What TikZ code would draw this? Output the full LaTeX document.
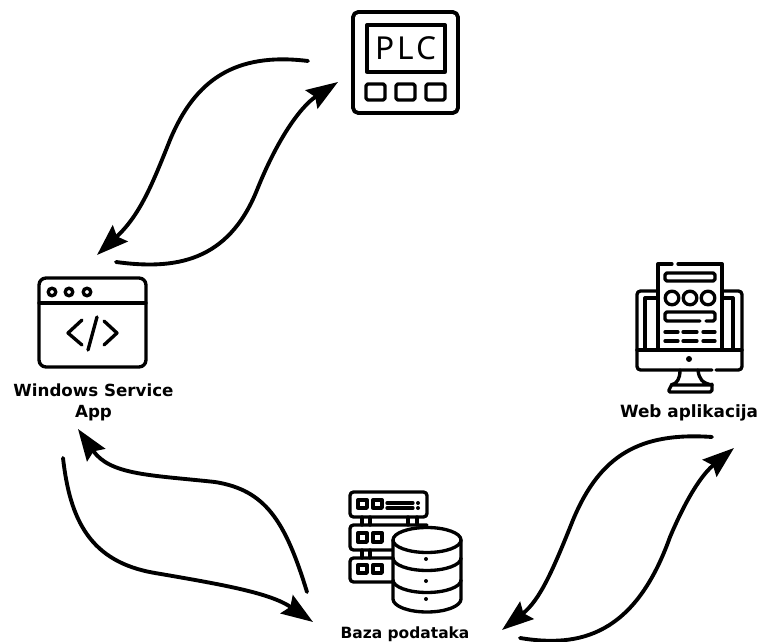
\documentclass[tikz,border=0pt]{standalone}
\usepackage{fontspec}
\setsansfont{DejaVu Sans}
\newfontfamily\plcfont[LetterSpace=10]{Noto Sans}
\usetikzlibrary{arrows.meta}

\begin{document}
\begin{tikzpicture}[scale=0.2]
\tikzstyle{every node}+=[inner sep=0pt]
\tikzstyle{icon}=[black,line width=1.9pt,line cap=round,line join=round]
\tikzstyle{flow}=[black,line width=2.2pt,line cap=round,-{Stealth[length=18pt,width=12.5pt,inset=2.5pt]}]
\tikzstyle{caption}=[font=\sffamily\bfseries,align=center,text=black]
\useasboundingbox (0,0) rectangle (76,-64.2);
% PLC
\draw [icon,line width=2.2pt,rounded corners=3pt] (35.3,-1.2) rectangle (45.8,-11.3);
\draw [icon] (36.7,-2.5) rectangle (44.5,-7.2);
\node (plc) at (40.6,-4.85) {\plcfont\fontsize{18}{18}\selectfont PLC};
\draw [icon,rounded corners=1pt] (36.6,-8.4) rectangle (38.5,-10);
\draw [icon,rounded corners=1pt] (39.6,-8.4) rectangle (41.5,-10);
\draw [icon,rounded corners=1pt] (42.6,-8.4) rectangle (44.5,-10);
% Windows service
\draw [icon,rounded corners=4pt] (3.9,-27.8) rectangle (14.6,-36.7);
\draw [icon] (3.9,-30.3) -- (14.6,-30.3);
\draw [icon] (5.2,-29.2) circle (0.38);
\draw [icon] (6.9,-29.2) circle (0.38);
\draw [icon] (8.7,-29.2) circle (0.38);
\draw [icon] (8.2,-32) -- (6.8,-33.3) -- (8.2,-34.5);
\draw [icon] (9.7,-31.7) -- (8.8,-35);
\draw [icon] (10.4,-32.1) -- (11.7,-33.3) -- (10.4,-34.5);
\node [caption,font=\sffamily\bfseries\fontsize{9.5}{12}\selectfont] (service) at (9.35,-40.25) {Windows Service\\App};
% Web app
\draw [icon,rounded corners=2pt] (63.7,-35) -- (63.7,-29.1) -- (65.8,-29.1);
\draw [icon,rounded corners=2pt] (74.2,-35) -- (74.2,-29.1) -- (72.2,-29.1);
\draw [icon] (64.5,-29.8) -- (65.8,-29.8);
\draw [icon] (73.3,-29.8) -- (72.2,-29.8);
\draw [icon] (64.5,-29.8) -- (64.5,-35);
\draw [icon] (73.3,-29.8) -- (73.3,-35);
\draw [icon] (65.8,-35) -- (65.8,-26.4) -- (67.2,-26.4);
\draw [icon] (67.8,-26.4) -- (72.2,-26.4) -- (72.2,-35);
\draw [icon,rounded corners=1pt] (66.5,-27.3) rectangle (71.5,-28.1);
\draw [icon] (67.2,-29.8) circle (0.68);
\draw [icon] (69,-29.8) circle (0.68);
\draw [icon] (70.8,-29.8) circle (0.68);
\draw [icon,rounded corners=1pt] (70.6,-32.1) -- (71.5,-32.1) -- (71.5,-31.2) -- (66.5,-31.2) -- (66.5,-32.1) -- (70,-32.1);
\draw [icon] (66.5,-33.2) -- (67.8,-33.2);
\draw [icon] (68.3,-33.2) -- (69.7,-33.2);
\draw [icon] (70.3,-33.2) -- (71.5,-33.2);
\draw [icon] (66.5,-34.1) -- (67.8,-34.1);
\draw [icon] (68.3,-34.1) -- (69.7,-34.1);
\draw [icon] (70.3,-34.1) -- (71.5,-34.1);
\draw [icon] (63.7,-35) -- (74.2,-35);
\draw [icon,rounded corners=2pt] (71.2,-37) -- (63.7,-37) -- (63.7,-35);
\draw [icon,rounded corners=2pt] (71.6,-37) -- (74.2,-37) -- (74.2,-35);
\fill [black] (68.9,-35.9) circle (0.3);
\draw [icon] (68,-37) .. controls (68,-37.9) and (67.7,-38.3) .. (67.2,-38.5) -- (71.2,-38.5) .. controls (70.2,-38.3) and (69.9,-37.9) .. (69.8,-37);
\draw [icon,rounded corners=1pt] (67.2,-38.4) -- (66.8,-39.2) -- (71.2,-39.2) -- (71.2,-38.4);
\node [caption,font=\sffamily\bfseries\fontsize{9.6}{12}\selectfont] (web) at (68.9,-41.3) {Web aplikacija};
% Database
\draw [icon,rounded corners=2pt] (35,-49.2) rectangle (42.7,-51.7);
\draw [icon,rounded corners=2pt] (39.3,-55) -- (35,-55) -- (35,-52.5) -- (42.7,-52.5);
\draw [icon,rounded corners=2pt] (39.2,-55.8) -- (35,-55.8) -- (35,-58.2) -- (39.2,-58.2);
\draw [icon] (36.2,-51.7) -- (36.2,-52.5);
\draw [icon] (37,-51.7) -- (37,-52.5);
\draw [icon] (40.8,-51.7) -- (40.8,-52.5);
\draw [icon] (41.7,-51.7) -- (41.7,-52.5);
\draw [icon] (36.2,-55) -- (36.2,-55.8);
\draw [icon] (37,-55) -- (37,-55.8);
\draw [icon] (35.8,-50) rectangle (36.7,-50.8);
\draw [icon] (37.3,-50) rectangle (38.2,-50.8);
\draw [icon] (38.7,-50.3) -- (41.3,-50.3);
\draw [icon] (38.7,-50.8) -- (41.3,-50.8);
\fill [black] (41.8,-50.3) circle (0.2);
\fill [black] (41.8,-50.8) circle (0.2);
\draw [icon] (35.8,-53.3) rectangle (36.7,-54.2);
\draw [icon] (37.3,-53.3) rectangle (38.2,-54.2);
\draw [icon] (35.8,-56.5) rectangle (36.7,-57.3);
\draw [icon] (37.3,-56.5) rectangle (38.2,-57.3);
\draw [icon,fill=white] (39.3,-54) arc (180:0:3.4 and 1.25) -- (46.1,-59.9) arc (0:-180:3.4 and 1.3) -- cycle;
\draw [icon] (39.3,-54) arc (180:360:3.4 and 1.25);
\draw [icon] (39.3,-55.8) arc (180:360:3.4 and 1.25);
\draw [icon] (39.3,-58) arc (180:360:3.4 and 1.25);
\fill [black] (42.6,-55.9) circle (0.2);
\fill [black] (42.6,-58.1) circle (0.2);
\fill [black] (42.6,-59.9) circle (0.2);
\node [caption,font=\sffamily\bfseries\fontsize{8.8}{12}\selectfont] (database) at (40.5,-63.4) {Baza podataka};
% connector ends
\coordinate (plc_out) at (30.8,-6.1);
\coordinate (plc_in) at (33.8,-8.2);
\coordinate (service_in) at (9.7,-25.5);
\coordinate (service_out) at (11.6,-26.2);
\coordinate (service_in2) at (7.8,-42.9);
\coordinate (service_out2) at (6.3,-45.8);
\coordinate (database_in) at (31.3,-62.2);
\coordinate (database_out) at (30.7,-59.2);
\coordinate (database_in2) at (50.2,-63);
\coordinate (database_out2) at (52,-63.8);
\coordinate (web_in) at (73.4,-44.8);
\coordinate (web_out) at (71.2,-43.7);
% arrows
\draw [flow] (plc_out) .. controls (23.5,-5.2) and (19.5,-8) .. (17,-14) .. controls (15.2,-18.5) and (14,-21.5) .. (service_in);
\draw [flow] (service_out) .. controls (17.5,-27) and (22.8,-26.2) .. (25.7,-19) .. controls (27.7,-14) and (30,-10.7) .. (plc_in);
\draw [flow] (web_out) .. controls (64,-43.2) and (60,-45.5) .. (57.3,-52) .. controls (55.3,-57) and (54,-60) .. (database_in2);
\draw [flow] (database_out2) .. controls (58,-64.8) and (63.5,-63.5) .. (67,-53.7) .. controls (69,-49) and (70.5,-47.2) .. (web_in);
\draw [flow] (database_out) .. controls (28.5,-52) and (26.5,-49) .. (21.5,-48.2) .. controls (15,-47.5) and (11,-47.5) .. (service_in2);
\draw [flow] (service_out2) .. controls (7,-52) and (9,-56.2) .. (15.5,-57.3) .. controls (22.5,-58.5) and (27,-59.3) .. (database_in);
\end{tikzpicture}
\end{document}
